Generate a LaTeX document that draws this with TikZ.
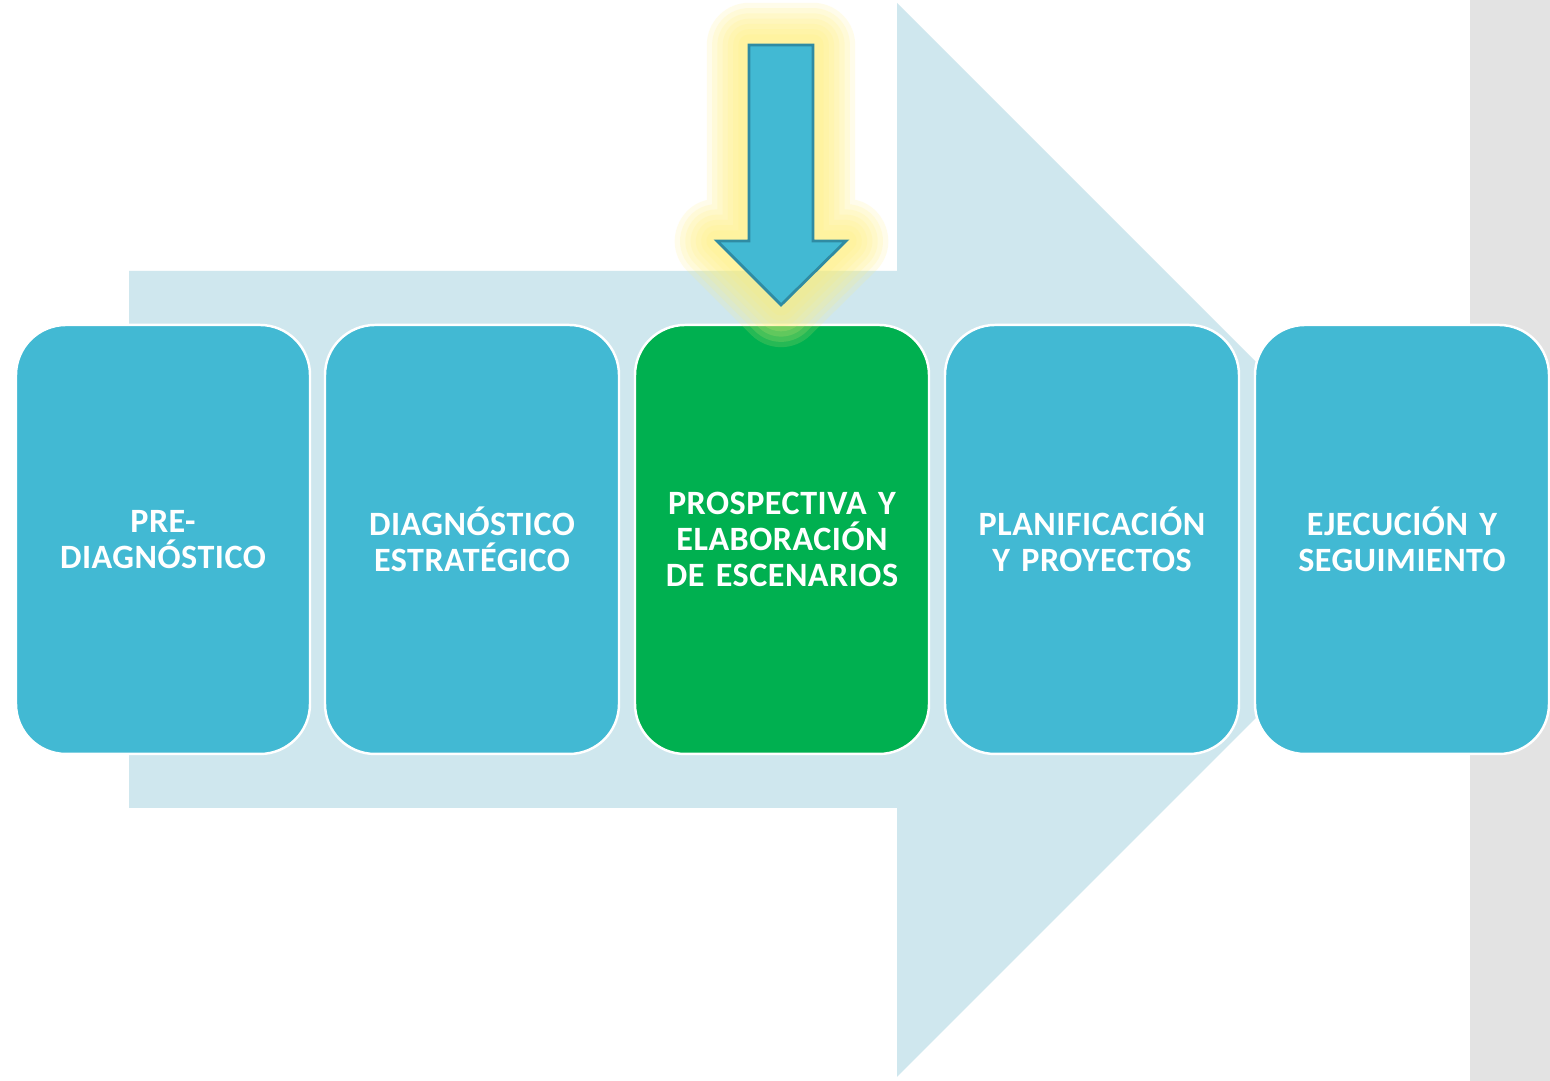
\documentclass[tikz,border=0pt]{standalone}
\usepackage{fontspec}
\setmainfont[WordSpace=0.4, LetterSpace=1.5]{Carlito}
\usetikzlibrary{positioning}
\definecolor{stepblue}{HTML}{42B9D3}
\definecolor{stepgreen}{HTML}{00B050}
\definecolor{flowback}{HTML}{CFE7EE}
\definecolor{stripgrey}{HTML}{E3E3E3}
\definecolor{arrowline}{HTML}{2F8BA3}
\definecolor{glowyellow}{HTML}{FFF176}
\tikzset{
  phase/.style={draw=white, line width=0.7pt, fill=stepblue, rounded corners=0.5cm,
    minimum width=2.94cm, minimum height=4.29cm, text width=2.7cm, inner xsep=0.12cm,
    align=center, text=white, font=\bfseries\fontsize{9.7}{10.2}\selectfont},
  current/.style={phase, fill=stepgreen}
}
\begin{document}
\begin{tikzpicture}
\useasboundingbox (0,0) rectangle (15.5,10.81);
\fill[white] (0,0) rectangle (15.5,10.81);
\fill[stripgrey] (14.70,0) rectangle (15.5,10.81);
% big background arrow
\fill[flowback] (1.29,8.10) -- (8.97,8.10) -- (8.97,10.78) -- (14.34,5.41)
  -- (8.97,0.04) -- (8.97,2.73) -- (1.29,2.73) -- cycle;
% phases
\node[phase] (pre) at (1.63,5.415) {PRE-\\DIAGNÓSTICO};
\node[phase] (diag) at (4.72,5.415) {DIAGNÓSTICO\\ESTRATÉGICO};
\node[current] (prosp) at (7.82,5.415) {PROSPECTIVA Y\\ELABORACIÓN\\DE ESCENARIOS};
\node[phase] (plan) at (10.92,5.415) {PLANIFICACIÓN\\Y PROYECTOS};
\node[phase] (ejec) at (14.02,5.415) {EJECUCIÓN Y\\SEGUIMIENTO};
% pointer with glow
\foreach \w in {24,21,18,15,12,9,6}
  \draw[glowyellow, opacity=0.15, line width=\w pt, line join=round]
    (7.49,10.36) -- (8.13,10.36) -- (8.13,8.40) -- (8.46,8.40) -- (7.81,7.76)
    -- (7.17,8.40) -- (7.49,8.40) -- cycle;
\filldraw[fill=stepblue, draw=arrowline, line width=0.8pt]
  (7.49,10.36) -- (8.13,10.36) -- (8.13,8.40) -- (8.46,8.40) -- (7.81,7.76)
  -- (7.17,8.40) -- (7.49,8.40) -- cycle;
\end{tikzpicture}
\end{document}
